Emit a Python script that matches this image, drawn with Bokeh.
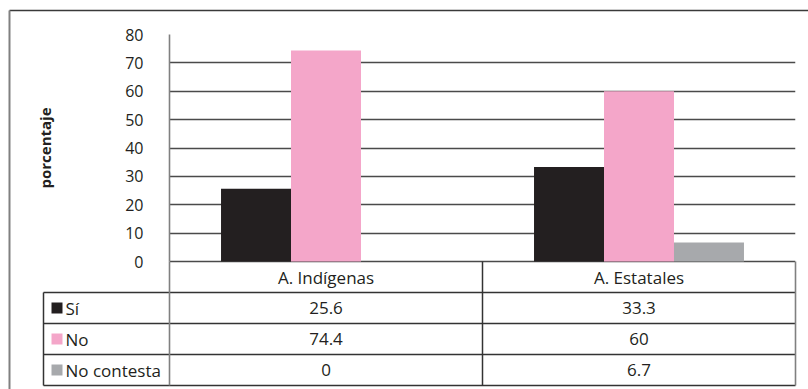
import math
from bokeh.plotting import figure
from bokeh.models import ColumnDataSource, FactorRange, Range1d, FixedTicker
from bokeh.transform import dodge
from bokeh.core.properties import value
from bokeh.embed import file_html
from bokeh.resources import INLINE

# ---------------- data ----------------
categories = ["A. Indígenas", "A. Estatales"]
series = ["Sí", "No", "No contesta"]
si = [25.6, 33.3]
no = [74.4, 60]
no_contesta = [0, 6.7]
y_ticks = [0, 10, 20, 30, 40, 50, 60, 70, 80]
y_label = "porcentaje"

# ---------------- styles / layout (page pixels) ----------------
colors = ["#231F20", "#F4A6C9", "#A7A9AC"]
FONT = "Open Sans"
TXT = "#231F20"
W, H = 808, 389
FRAME_L, FRAME_R = 169, 795
Y80, Y0 = 34, 261
ROW = 31
TABLE_L = 43
TABLE_B = Y0 + 4 * ROW
OUTER_L, OUTER_T = 9, 10
LABEL_X = 45
bar_w = 0.2236

ncat = len(categories)
nser = len(series)
cat_px = (FRAME_R - FRAME_L) / ncat
ppp = (Y0 - Y80) / 80.0


def sx(px):
    return (px - FRAME_L) / cat_px


def sy(py):
    return (Y0 - py) / ppp


def row_y(r):
    return sy(Y0 + r * ROW)


src = ColumnDataSource(dict(cat=categories, si=si, no=no, nc=no_contesta))

p = figure(width=W, height=H, x_range=FactorRange(*categories),
           y_range=Range1d(sy(TABLE_B), 80),
           output_backend="svg", toolbar_location=None,
           min_border_left=FRAME_L, min_border_right=W - FRAME_R,
           min_border_top=Y80, min_border_bottom=H - TABLE_B)
p.outline_line_color = None
p.background_fill_color = "white"
p.border_fill_color = "white"

vals = ["si", "no", "nc"]
offsets = [-bar_w, 0, bar_w]
for col, off, c in zip(vals, offsets, colors):
    p.vbar(x=dodge("cat", off, range=p.x_range), top=col, width=bar_w, source=src,
           fill_color=c, line_color=None)

p.xaxis.visible = False
p.xgrid.grid_line_color = None
p.ygrid.grid_line_color = "#4a4a4a"
p.ygrid.grid_line_width = 1.4
p.ygrid.ticker = FixedTicker(ticks=y_ticks)
p.yaxis.ticker = FixedTicker(ticks=y_ticks)
p.yaxis.bounds = (y_ticks[0], y_ticks[-1])
p.yaxis.major_tick_line_color = None
p.yaxis.minor_tick_line_color = None
p.yaxis.axis_line_color = "#808080"
p.yaxis.axis_line_width = 1.6
p.yaxis.major_label_standoff = 20
p.yaxis.major_label_text_font = FONT
p.yaxis.major_label_text_font_size = "16px"
p.yaxis.major_label_text_color = TXT

# y-axis title, centred on the 0..80 scale
p.text(x=[sx(LABEL_X)], y=[(y_ticks[0] + y_ticks[-1]) / 2], text=[y_label],
       angle=math.pi / 2, text_font=value(FONT), text_font_style="bold",
       text_font_size="15px", text_color=TXT, text_align="center",
       text_baseline="middle", level="overlay")

# ---------------- data table (below the chart) ----------------
lab_left = sx(TABLE_L)
# horizontal lines (rows 1..4)
hr = [row_y(r) for r in range(1, nser + 2)]
p.segment(x0=[lab_left] * len(hr), y0=hr, x1=[ncat] * len(hr), y1=hr,
          line_color="#333333", line_width=1.5, level="overlay")
# vertical lines
p.segment(x0=[lab_left, 1], y0=[row_y(1), 0], x1=[lab_left, 1], y1=[row_y(nser + 1)] * 2,
          line_color="#333333", line_width=1.5, level="overlay")
p.segment(x0=[0, ncat], y0=[0, 0], x1=[0, ncat], y1=[row_y(nser + 1)] * 2,
          line_color="#808080", line_width=1.6, level="overlay")

# category header
p.text(x=categories, y=[row_y(0.5)] * ncat, text=categories,
       text_font=value(FONT), text_font_size="17px", text_color=TXT,
       text_align="center", text_baseline="middle", level="overlay")

# values
cx, cy, ct = [], [], []
for r, arr in enumerate([si, no, no_contesta]):
    for i, v in enumerate(arr):
        cx.append(i + 0.5)
        cy.append(row_y(r + 1.5))
        ct.append(f"{v:g}")
p.text(x=cx, y=cy, text=ct, text_font=value(FONT), text_font_size="17px",
       text_color=TXT, text_align="center", text_baseline="middle", level="overlay")

# row labels with legend squares
rows_y = [row_y(r + 1.5) for r in range(nser)]
p.segment(x0=[sx(51)] * nser, y0=rows_y, x1=[sx(62)] * nser, y1=rows_y,
          line_color=colors, line_width=11, line_cap="butt", level="overlay")
p.text(x=[sx(65)] * nser, y=rows_y, text=series, text_font=value(FONT),
       text_font_size="17px", text_color=TXT, text_align="left", text_baseline="middle",
       level="overlay")

# outer frame lines
p.segment(x0=[sx(OUTER_L), sx(OUTER_L)], y0=[sy(OUTER_T), sy(OUTER_T)],
          x1=[sx(W + 5), sx(OUTER_L)], y1=[sy(OUTER_T), sy(H + 5)],
          line_color=["#3a3a3a", "#808080"], line_width=[1.5, 2], level="overlay")

open("out.html", "w").write(file_html(p, INLINE))
